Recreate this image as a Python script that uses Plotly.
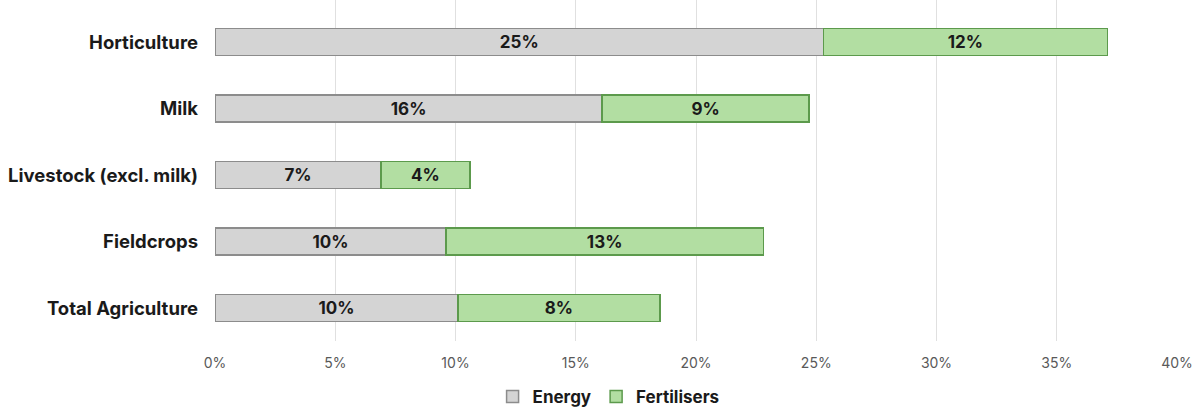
import plotly.graph_objects as go

categories = ["Horticulture", "Milk", "Livestock (excl. milk)", "Fieldcrops", "Total Agriculture"]
energy = [25.3, 16.1, 6.9, 9.6, 10.1]
fertilisers = [11.8, 8.6, 3.7, 13.2, 8.4]
x_ticks = [0, 5, 10, 15, 20, 25, 30, 35, 40]
x_tick_labels = [f"{t}%" for t in x_ticks]

FONT = "Inter, Open Sans, sans-serif"

fig = go.Figure()
fig.add_trace(go.Bar(
    y=categories, x=energy, orientation="h", name="Energy",
    marker=dict(color="#d4d4d4", line=dict(color="#8c8c8c", width=1.5)),
    text=[f"{round(v)}%" for v in energy],
    textposition="inside", insidetextanchor="middle", textangle=0,
    textfont=dict(family=FONT, size=17, color="#1a1a1a", weight="bold"),
    width=0.41,
))
fig.add_trace(go.Bar(
    y=categories, x=fertilisers, orientation="h", name="Fertilisers",
    marker=dict(color="#b2dea2", line=dict(color="#5c9a4c", width=1.5)),
    text=[f"{round(v)}%" for v in fertilisers],
    textposition="inside", insidetextanchor="middle", textangle=0,
    textfont=dict(family=FONT, size=17, color="#1a1a1a", weight="bold"),
    width=0.41,
))

fig.update_layout(
    barmode="stack",
    width=1198, height=410,
    margin=dict(l=215, r=21, t=0, b=69, autoexpand=False),
    plot_bgcolor="white", paper_bgcolor="white",
    font=dict(family=FONT),
    uniformtext=dict(minsize=16, mode="show"),
    xaxis=dict(
        range=[0, 40], tickvals=x_ticks, ticktext=x_tick_labels,
        showgrid=True, gridcolor="#e0e0e0", gridwidth=1.2,
        zeroline=False, showline=False, tickangle=0,
        tickfont=dict(family=FONT, size=14, color="#595959"),
        ticks="", ticklen=0, ticklabelstandoff=12,
    ),
    yaxis=dict(
        categoryorder="array", categoryarray=categories,
        range=[4.496, -0.632],
        tickfont=dict(family=FONT, size=18.5, color="#1a1a1a", weight="bold"),
        ticks="", ticklabelstandoff=16, showgrid=False, showline=False,
    ),
    showlegend=True,
    legend=dict(
        orientation="h", xref="container", yref="container",
        x=0.508, xanchor="center", y=0.032, yanchor="middle",
        font=dict(family=FONT, size=17, color="#1a1a1a", weight="bold"),
        traceorder="normal", itemwidth=30,
    ),
)

fig.write_html("out.html")
